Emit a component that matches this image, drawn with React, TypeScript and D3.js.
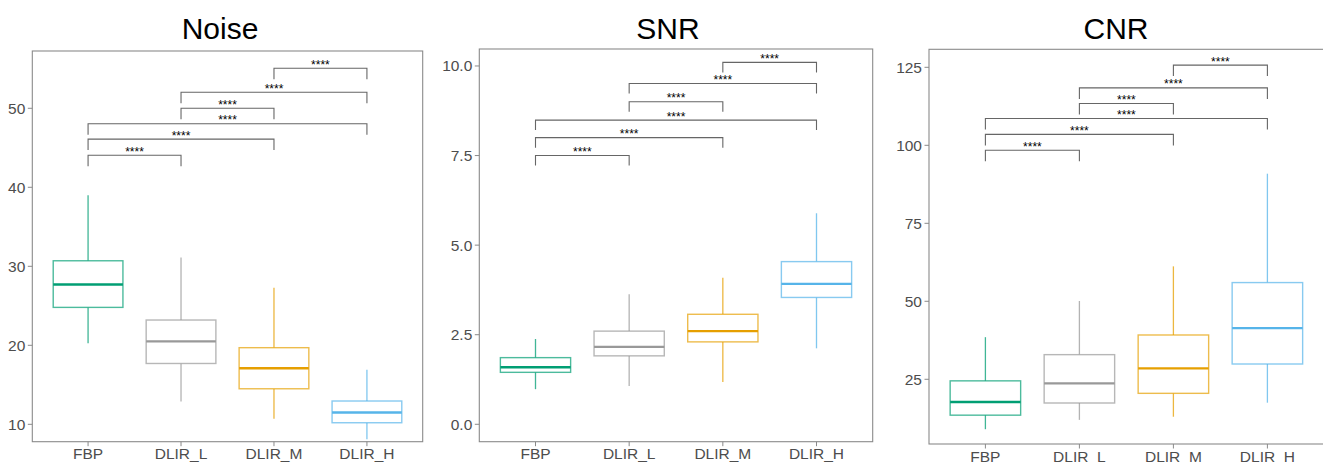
import React from "react";
import * as d3 from "d3";

const categories = ["FBP", "DLIR_L", "DLIR_M", "DLIR_H"];
const colors = ["#009E73", "#999999", "#E69F00", "#56B4E9"];

// [lowWhisker, Q1, median, Q3, highWhisker]
const noiseStats = [
  [20.25, 24.8, 27.7, 30.7, 39.0],
  [12.9, 17.7, 20.5, 23.2, 31.1],
  [10.7, 14.5, 17.1, 19.7, 27.3],
  [8.1, 10.2, 11.5, 12.95, 16.9],
];
const snrStats = [
  [0.98, 1.45, 1.59, 1.86, 2.38],
  [1.07, 1.91, 2.16, 2.6, 3.63],
  [1.18, 2.3, 2.6, 3.07, 4.09],
  [2.12, 3.54, 3.92, 4.54, 5.89],
];
const cnrStats = [
  [9.0, 13.5, 17.7, 24.5, 38.5],
  [12.0, 17.4, 23.7, 32.9, 50.1],
  [13.0, 20.5, 28.5, 39.2, 61.2],
  [17.5, 29.9, 41.4, 56.0, 90.9],
];

const comparisons = [
  ["FBP", "DLIR_L"],
  ["FBP", "DLIR_M"],
  ["FBP", "DLIR_H"],
  ["DLIR_L", "DLIR_M"],
  ["DLIR_L", "DLIR_H"],
  ["DLIR_M", "DLIR_H"],
];
const noiseBracketY = [44.05, 46.1, 48.05, 50.0, 52.03, 55.06];
const snrBracketY = [7.5, 8.0, 8.49, 9.0, 9.51, 10.1];
const cnrBracketY = [98.4, 103.5, 108.6, 113.4, 118.4, 125.7];
const sigLabel = "****";

const noiseTicks = [10, 20, 30, 40, 50];
const snrTicks = [0, 2.5, 5, 7.5, 10];
const cnrTicks = [25, 50, 75, 100, 125];

const panels = [
  {
    title: "Noise", stats: noiseStats, brackets: noiseBracketY, ticks: noiseTicks,
    fmt: (v: number) => d3.format("d")(v), domain: [7.8, 57.25],
    left: 32.3, right: 422.7, top: 51, bottom: 441.7, titleX: 220, tip: 11,
  },
  {
    title: "SNR", stats: snrStats, brackets: snrBracketY, ticks: snrTicks,
    fmt: (v: number) => d3.format(".1f")(v), domain: [-0.486, 10.474],
    left: 479.3, right: 872.7, top: 49, bottom: 441.7, titleX: 668, tip: 10,
  },
  {
    title: "CNR", stats: cnrStats, brackets: cnrBracketY, ticks: cnrTicks,
    fmt: (v: number) => d3.format("d")(v), domain: [4.26, 130.77],
    left: 929, right: 1323.8, top: 49.3, bottom: 444, titleX: 1116, tip: 11,
  },
];

const FONT = "'Liberation Sans', Arial, Helvetica, sans-serif";

function Panel({ p }: { p: typeof panels[number] }) {
  const x = d3.scalePoint<string>().domain(categories).range([p.left, p.right]).padding(0.6);
  const y = d3.scaleLinear().domain(p.domain).range([p.bottom, p.top]);
  const step = x.step();
  const bw = step * 0.75;
  return (
    <g>
      <text x={p.titleX} y={39} textAnchor="middle" fontSize={30} fontFamily={FONT} fill="#000">
        {p.title}
      </text>
      <rect x={p.left} y={p.top} width={p.right - p.left} height={p.bottom - p.top} fill="none" stroke="#8a8a8a" strokeWidth={1.1} />
      {p.ticks.map((t) => (
        <g key={t}>
          <line x1={p.left - 4.5} x2={p.left} y1={y(t)} y2={y(t)} stroke="#8a8a8a" strokeWidth={1} />
          <text x={p.left - 7} y={y(t)} textAnchor="end" dominantBaseline="central" fontSize={15.5} fontFamily={FONT} fill="#4d4d4d">
            {p.fmt(t)}
          </text>
        </g>
      ))}
      {categories.map((c) => (
        <g key={c}>
          <line x1={x(c)} x2={x(c)} y1={p.bottom} y2={p.bottom + 4.5} stroke="#8a8a8a" strokeWidth={1} />
          <text x={x(c)} y={p.bottom + 17.5} textAnchor="middle" fontSize={15.5} fontFamily={FONT} fill="#4d4d4d">
            {c}
          </text>
        </g>
      ))}
      {p.stats.map((s, i) => {
        const cx = x(categories[i])!;
        const col = colors[i];
        return (
          <g key={i}>
            <line x1={cx} x2={cx} y1={y(s[3])} y2={y(s[4])} stroke={col} strokeOpacity={0.75} strokeWidth={1.3} />
            <line x1={cx} x2={cx} y1={y(s[1])} y2={y(s[0])} stroke={col} strokeOpacity={0.75} strokeWidth={1.3} />
            <rect x={cx - bw / 2} y={y(s[3])} width={bw} height={y(s[1]) - y(s[3])} fill="#fff" stroke={col} strokeOpacity={0.7} strokeWidth={1.4} />
            <line x1={cx - bw / 2} x2={cx + bw / 2} y1={y(s[2])} y2={y(s[2])} stroke={col} strokeWidth={2.4} />
          </g>
        );
      })}
      {comparisons.map((cmp, i) => {
        const x1 = x(cmp[0])!;
        const x2 = x(cmp[1])!;
        const yy = y(p.brackets[i]);
        const path = d3.path();
        path.moveTo(x1, yy + p.tip);
        path.lineTo(x1, yy);
        path.lineTo(x2, yy);
        path.lineTo(x2, yy + p.tip);
        return (
          <g key={i}>
            <path d={path.toString()} fill="none" stroke="#666" strokeWidth={1.1} />
            <text x={(x1 + x2) / 2} y={yy + 0.5} textAnchor="middle" fontSize={12} fontFamily={FONT} fill="#000">
              {sigLabel}
            </text>
          </g>
        );
      })}
    </g>
  );
}

export default function App() {
  return (
    <svg width={1323} height={463} style={{ position: "absolute", left: 0, top: 0, background: "#fff" }}>
      <rect x={0} y={0} width={1323} height={463} fill="#fff" />
      {panels.map((p) => (
        <Panel key={p.title} p={p} />
      ))}
    </svg>
  );
}
